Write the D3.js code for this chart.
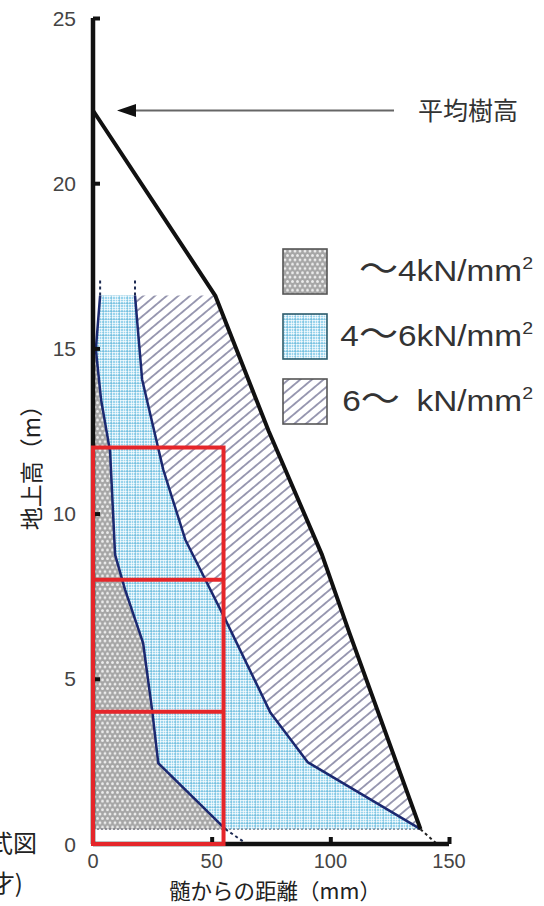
<!DOCTYPE html>
<html>
<head>
<meta charset="utf-8">
<script src="https://cdn.jsdelivr.net/npm/d3@7/dist/d3.min.js"></script>
<style>
  html, body { margin: 0; padding: 0; background: #fff; }
  svg { display: block; }
</style>
</head>
<body>
<svg id="chart" width="544" height="906"></svg>
<script>
// ---- data (distance from pith in mm, height above ground in m) ----
const xTicks = [0, 50, 100, 150];
const yTicks = [0, 5, 10, 15, 20, 25];

// stem surface profile
const outerLine = [[0, 22.2], [51.5, 16.6], [74, 12.5], [96.5, 8.75], [108, 6.4], [138, 0.45]];
// boundary between "~4" and "4~6" zones
const boundary1 = [[3.0, 16.6], [1.2, 14.97], [3.4, 13.45], [7.2, 11.88], [9.3, 8.76], [13.5, 7.7],
                   [21.1, 6.09], [24.9, 4.06], [27.5, 2.45], [55.8, 0.45]];
// boundary between "4~6" and "6~" zones
const boundary2 = [[17.7, 16.6], [20.7, 14.06], [29.6, 11.33], [38.9, 9.21], [55.8, 6.79],
                   [74.8, 3.97], [90.4, 2.48], [138, 0.45]];
// dashed continuations of the boundaries
const ext1Top = [[3.0, 16.6], [3.0, 17.1]];
const ext2Top = [[17.7, 16.6], [17.7, 17.1]];
const ext1Bottom = [[55.8, 0.45], [64.2, 0.03]];
const extOuterBottom = [[138, 0.45], [144.5, 0.03]];
const zoneBase = 0.45;
const zoneTop = 16.6;
const treeHeight = 22.2;

// sampling sections
const sectionBreaks = [0, 4, 8, 12];
const sectionWidth = 55;

// legend: [lower limit, upper limit] in kN/mm2
const legendFrom = ["", "4", "6"];
const legendTo = ["4", "6", "\u2002"];
const legendFills = ["url(#dots)", "url(#grid)", "url(#hatch)"];
const legendStrokes = ["#555", "#2d5c6c", "#555"];

const svg = d3.select("#chart");
const x = d3.scaleLinear().domain([0, 150]).range([93, 449]);
const y = d3.scaleLinear().domain([0, 25]).range([844, 18]);

const jp = "'Noto Sans CJK JP', sans-serif";
const num = "'Liberation Sans', 'Noto Sans CJK JP', sans-serif";

// ---- fill patterns ----
const defs = svg.append("defs");
const dots = defs.append("pattern").attr("id", "dots").attr("patternUnits", "userSpaceOnUse")
  .attr("width", 5).attr("height", 8.66);
dots.append("rect").attr("width", 5).attr("height", 8.66).attr("fill", "#a6a6a6");
[[0, 0], [5, 0], [2.5, 4.33], [0, 8.66], [5, 8.66]].forEach(([cx, cy]) =>
  dots.append("circle").attr("cx", cx).attr("cy", cy).attr("r", 1.45).attr("fill", "#ececec"));

const grid = defs.append("pattern").attr("id", "grid").attr("patternUnits", "userSpaceOnUse")
  .attr("width", 8).attr("height", 8);
grid.append("rect").attr("width", 8).attr("height", 8).attr("fill", "#9ad5ed");
[0.5, 3.5, 5.5].forEach(p => {
  grid.append("rect").attr("x", p - 0.5).attr("y", 0).attr("width", 1).attr("height", 8).attr("fill", "#fff").attr("opacity", 0.65);
  grid.append("rect").attr("x", 0).attr("y", p - 0.5).attr("width", 8).attr("height", 1).attr("fill", "#fff").attr("opacity", 0.65);
});
grid.append("rect").attr("x", 7).attr("y", 0).attr("width", 0.7).attr("height", 8).attr("fill", "#5fb0d2").attr("opacity", 0.6);
grid.append("rect").attr("x", 0).attr("y", 7).attr("width", 8).attr("height", 0.7).attr("fill", "#5fb0d2").attr("opacity", 0.6);

const hatch = defs.append("pattern").attr("id", "hatch").attr("patternUnits", "userSpaceOnUse")
  .attr("width", 7.5).attr("height", 7.5).attr("patternTransform", "rotate(-40)");
hatch.append("rect").attr("width", 7.5).attr("height", 7.5).attr("fill", "#fff");
hatch.append("line").attr("x1", 0).attr("y1", 3.75).attr("x2", 7.5).attr("y2", 3.75)
  .attr("stroke", "#4e4e78").attr("stroke-width", 1.1);

const line = d3.line().x(d => x(d[0])).y(d => y(d[1]));

// ---- strength zones ----
const grayZone = [[0, boundary1[1][1]], ...boundary1.slice(1), [0, zoneBase]];
const blueZone = [[0, zoneTop], ...boundary1, ...boundary2.slice().reverse()];
const outerBelow = outerLine.filter(d => d[1] <= zoneTop);
const hatchZone = [...boundary2, ...outerBelow.slice().reverse()];

svg.append("path").attr("d", line(hatchZone) + "Z").attr("fill", "url(#hatch)");
svg.append("path").attr("d", line(blueZone) + "Z").attr("fill", "url(#grid)");
svg.append("path").attr("d", line(grayZone) + "Z").attr("fill", "url(#dots)");

// lower edge of the zones
svg.append("path").attr("d", line([[0, zoneBase], [138, zoneBase]]))
  .attr("stroke", "#445").attr("stroke-width", 0.9).attr("stroke-dasharray", "2,2").attr("fill", "none");

// boundaries
[boundary1, boundary2].forEach(b =>
  svg.append("path").attr("d", line(b)).attr("fill", "none")
    .attr("stroke", "#1b2870").attr("stroke-width", 2.5).attr("stroke-linejoin", "round"));
[ext1Top, ext2Top, ext1Bottom].forEach(b =>
  svg.append("path").attr("d", line(b)).attr("fill", "none")
    .attr("stroke", "#1d2a52").attr("stroke-width", 2).attr("stroke-dasharray", "3,3"));
svg.append("path").attr("d", line(extOuterBottom)).attr("fill", "none")
  .attr("stroke", "#222").attr("stroke-width", 2).attr("stroke-dasharray", "3,3");

// stem surface
svg.append("path").attr("d", line(outerLine)).attr("fill", "none")
  .attr("stroke", "#111").attr("stroke-width", 4).attr("stroke-linejoin", "round");

// ---- axes ----
const yAxis = svg.append("g").attr("transform", `translate(${x(0)},0)`)
  .call(d3.axisRight(y).tickValues(yTicks.filter(v => v > 0)).tickSize(7).tickFormat(""));
yAxis.select(".domain").attr("stroke", "#111").attr("stroke-width", 4.5).attr("d", `M0,${y(0)}V${y(25)}`);
yAxis.selectAll(".tick line").attr("stroke", "#111").attr("stroke-width", 4);

const xAxis = svg.append("g").attr("transform", `translate(0,${y(0)})`)
  .call(d3.axisTop(x).tickValues(xTicks.filter(v => v > 0)).tickSize(7).tickFormat(""));
xAxis.select(".domain").attr("stroke", "#111").attr("stroke-width", 4.5).attr("d", `M${x(0)},0H${x(150)}`);
xAxis.selectAll(".tick line").attr("stroke", "#111").attr("stroke-width", 4);

// tick labels
svg.append("g").selectAll("text").data(yTicks).join("text")
  .attr("x", 76).attr("y", d => y(d)).attr("dy", "0.36em")
  .attr("text-anchor", "end").attr("font-family", num).attr("font-size", 21).attr("fill", "#444")
  .text(d => d);
svg.append("g").selectAll("text").data(xTicks).join("text")
  .attr("x", d => x(d)).attr("y", 868)
  .attr("text-anchor", "middle").attr("font-family", num).attr("font-size", 20).attr("fill", "#444")
  .text(d => d);

// axis titles
svg.append("text").attr("transform", "translate(40,462) rotate(-90)")
  .attr("text-anchor", "middle").attr("font-family", jp).attr("font-size", 23).attr("fill", "#222")
  .text("地上高（m）");
svg.append("text").attr("x", 275).attr("y", 899)
  .attr("text-anchor", "middle").attr("font-family", jp).attr("font-size", 21.5).attr("fill", "#222")
  .text("髄からの距離（mm）");

// ---- sampling sections ----
const red = svg.append("g").attr("fill", "none").attr("stroke", "#e5262a").attr("stroke-width", 4);
red.append("rect").attr("x", x(0)).attr("y", y(sectionBreaks[sectionBreaks.length - 1]))
  .attr("width", x(sectionWidth) - x(0)).attr("height", y(0) - y(sectionBreaks[sectionBreaks.length - 1]));
sectionBreaks.slice(1, -1).forEach(h =>
  red.append("line").attr("x1", x(0)).attr("x2", x(sectionWidth)).attr("y1", y(h)).attr("y2", y(h)));

// ---- average tree height marker ----
svg.append("line").attr("x1", x(0) + 40).attr("x2", 394).attr("y1", y(treeHeight)).attr("y2", y(treeHeight))
  .attr("stroke", "#666").attr("stroke-width", 2);
svg.append("path")
  .attr("d", `M${x(0) + 24},${y(treeHeight)}L${x(0) + 43},${y(treeHeight) - 6.5}L${x(0) + 43},${y(treeHeight) + 6.5}Z`)
  .attr("fill", "#111");
svg.append("text").attr("x", 418).attr("y", y(treeHeight)).attr("dy", "0.36em")
  .attr("font-family", jp).attr("font-size", 25).attr("fill", "#333").text("平均樹高");

// ---- legend ----
const legend = svg.append("g");
legendFrom.forEach((from, i) => {
  const top = 249 + i * 65;
  legend.append("rect").attr("x", 283).attr("y", top).attr("width", 44).attr("height", 45)
    .attr("fill", legendFills[i]).attr("stroke", legendStrokes[i]).attr("stroke-width", 1.6);
  const t = legend.append("text")
    .attr("transform", `translate(533,${top + 22}) scale(1.15,1)`).attr("dy", "0.36em")
    .attr("text-anchor", "end").attr("font-family", num).attr("font-size", 29).attr("fill", "#333");
  t.append("tspan").text(from);
  t.append("tspan").attr("font-family", jp).attr("font-size", 34).text("～");
  t.append("tspan").text(legendTo[i] + "kN/mm");
  t.append("tspan").attr("font-size", 17).attr("dy", "-0.75em").text("2");
});

// ---- caption fragments at the left edge ----
svg.append("text").attr("x", 37).attr("y", 852).attr("text-anchor", "end")
  .attr("font-family", jp).attr("font-size", 24).attr("fill", "#222").text("式図");
svg.append("text").attr("x", 23).attr("y", 892).attr("text-anchor", "end")
  .attr("font-family", jp).attr("font-size", 24).attr("fill", "#222").text("才)");
</script>
</body>
</html>
